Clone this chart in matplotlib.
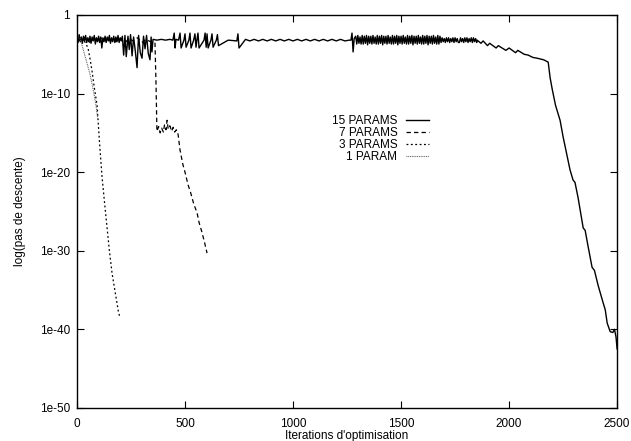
import numpy as np
import matplotlib
matplotlib.use("Agg")
import matplotlib.pyplot as plt

plt.rcParams['font.family'] = ['Liberation Sans', 'DejaVu Sans']

# ---- data : iteration, log10(pas de descente) ----
# 15 PARAMS, read piece by piece
it15_a = list(range(0, 211, 5))
e15_a = [-2.6, -3.5, -2.5, -3.4, -2.8, -3.6, -2.7, -3.3, -2.6, -3.5, -2.9, -3.4, -2.7, -3.6,
         -2.8, -3.3, -2.6, -3.7, -2.9, -3.4, -2.7, -3.5, -2.8, -4.2, -2.9, -3.4, -2.7, -3.5,
         -2.8, -3.3, -2.6, -3.6, -2.9, -3.4, -2.7, -3.5, -2.8, -3.4, -2.6, -3.5, -2.9, -3.3,
         -2.7]

it15_b = [216, 222, 228, 236, 242, 248, 255, 262, 270, 278, 285, 293, 301, 308, 315, 322,
          330, 338, 343, 347, 352]
e15_b = [-5.1, -2.6, -5.3, -2.7, -4.4, -2.5, -5.2, -2.8, -4.6, -6.7, -2.6, -4.8, -5.5, -2.7,
         -4.3, -2.6, -4.9, -5.7, -2.8, -4.7, -3.1]

it15_c = [370, 390, 410, 430, 444, 450, 454, 458, 470, 477, 482, 495, 500, 505, 518, 523,
          528, 540, 546, 551, 555, 560, 565, 588, 593, 598, 602, 607, 620, 625, 630, 645,
          650, 655, 700, 740, 745, 750]
e15_c = [-3.2, -3.1, -3.2, -3.1, -3.2, -2.3, -4.2, -3.1, -3.2, -2.3, -4.2, -3.2, -2.4, -4.1,
         -3.2, -2.3, -4.2, -3.2, -2.4, -4.1, -3.2, -2.3, -4.2, -3.2, -2.3, -4.1, -2.4, -4.2,
         -3.2, -2.4, -4.1, -3.2, -2.5, -3.9, -3.2, -3.3, -2.4, -4.2]

it15_d = [780, 800, 820, 840, 860, 880, 900, 920, 940, 960, 980, 1000, 1020, 1040, 1060,
          1080, 1100, 1120, 1140, 1160, 1180, 1200, 1220, 1240, 1260, 1268, 1273, 1278, 1283]
e15_d = [-3.1, -3.3, -3.1, -3.3, -3.1, -3.3, -3.1, -3.3, -3.1, -3.3, -3.1, -3.3, -3.1, -3.3,
         -3.1, -3.3, -3.1, -3.3, -3.1, -3.3, -3.1, -3.3, -3.1, -3.3, -3.2, -3.2, -2.3, -4.7,
         -3.0]

# thick oscillating band
it15_e = list(range(1290, 1681, 5))
e15_e = [-2.7, -3.7, -2.6, -3.6, -2.8, -3.7, -2.6, -3.7, -2.7, -3.6, -2.6, -3.8, -2.7, -3.6,
         -2.7, -3.7, -2.6, -3.6, -2.8, -3.7, -2.6, -3.7, -2.7, -3.6, -2.6, -3.8, -2.7, -3.6,
         -2.7, -3.7, -2.6, -3.6, -2.8, -3.7, -2.6, -3.7, -2.7, -3.6, -2.6, -3.8, -2.7, -3.6,
         -2.7, -3.7, -2.6, -3.6, -2.8, -3.7, -2.6, -3.7, -2.7, -3.6, -2.6, -3.8, -2.7, -3.6,
         -2.7, -3.7, -2.6, -3.6, -2.8, -3.7, -2.6, -3.7, -2.7, -3.6, -2.6, -3.8, -2.7, -3.6,
         -2.7, -3.7, -2.6, -3.6, -2.8, -3.7, -2.6, -3.7, -2.7]

it15_f = list(range(1685, 1851, 5)) + [1852]
e15_f = [-3.5, -2.9, -3.4, -3.0, -3.5, -2.9, -3.4, -2.9, -3.5, -3.0, -3.4, -2.9, -3.5, -2.9,
         -3.4, -3.0, -3.5,
         -3.5, -2.9, -3.4, -3.0, -3.5, -2.9, -3.4, -2.9, -3.5, -3.0, -3.4, -2.9, -3.5, -2.9,
         -3.4, -3.0, -3.5,
         -3.2]

it15_g = [1870, 1880, 1900, 1910, 1940, 1950, 1985, 2000, 2030, 2040, 2070, 2088, 2110, 2130,
          2160, 2181]
e15_g = [-3.6, -3.3, -3.9, -3.6, -4.2, -3.9, -4.5, -4.2, -4.8, -4.5, -5.0, -5.1, -5.4, -5.5,
         -5.7, -6.0]

it15_h = [2190, 2200, 2215, 2236, 2250, 2265, 2282, 2296, 2305, 2319, 2343, 2352, 2366, 2384,
          2395, 2412, 2435, 2445, 2454, 2468, 2480, 2488, 2491, 2495, 2500]
e15_h = [-8.0, -9.5, -11.5, -13.4, -15.5, -17.5, -19.7, -21.0, -21.3, -23.2, -27.1, -27.4,
         -29.5, -32.1, -32.5, -34.4, -36.6, -37.5, -39.2, -40.3, -40.4, -40.0, -40.4, -41.0,
         -42.5]

it15 = it15_a + it15_b + it15_c + it15_d + it15_e + it15_f + it15_g + it15_h
e15 = e15_a + e15_b + e15_c + e15_d + e15_e + e15_f + e15_g + e15_h

# 7 PARAMS
it7 = [0, 20, 40, 60, 80, 100, 120, 140, 160, 180, 200, 220, 240, 260, 280, 300, 320, 340,
       361, 366, 370, 378, 385, 392, 400, 405, 412, 417, 422, 430, 438, 445, 452, 460, 468,
       477, 490, 500, 514, 525, 540, 556, 565, 579, 590, 602]
e7 = [-2.9, -3.4, -2.8, -3.5, -3.0, -3.3, -2.8, -3.5, -3.0, -3.4, -2.9, -3.6, -3.0, -3.3,
      -2.9, -3.5, -3.1, -3.4, -3.5, -9.0, -14.8, -14.2, -15.0, -14.4, -14.9, -14.0, -14.6,
      -13.4, -14.5, -14.1, -14.8, -14.3, -14.9, -14.6, -15.2, -17.2, -19.0, -20.0, -21.6,
      -22.5, -24.0, -25.2, -26.4, -27.7, -28.9, -30.3]

# 3 PARAMS
it3 = [0, 10, 20, 30, 40, 51, 60, 70, 80, 93, 105, 116, 128, 139, 150, 162, 175, 185, 192, 199]
e3 = [-3.0, -2.8, -3.4, -3.1, -3.6, -4.2, -5.5, -7.2, -9.2, -11.5, -16.5, -20.6, -24.0,
      -27.0, -30.0, -32.8, -35.0, -36.6, -37.8, -38.5]

# 1 PARAM
it1 = [0, 8, 14, 25, 40, 60, 75, 88, 95]
e1 = [-3.1, -2.9, -3.0, -4.0, -5.5, -7.5, -9.5, -11.5, -13.0]

yticks = [1, 1e-10, 1e-20, 1e-30, 1e-40, 1e-50]
ylabels = ['1', '1e-10', '1e-20', '1e-30', '1e-40', '1e-50']
xticks = [0, 500, 1000, 1500, 2000, 2500]

fig = plt.figure(figsize=(6.31, 4.41), dpi=100)
ax = fig.add_axes([0.122, 0.075, 0.856, 0.891])

ax.plot(it15, 10.0 ** np.array(e15), color='black', lw=1.0, label='15 PARAMS')
ax.plot(it7, 10.0 ** np.array(e7), color='black', lw=0.9, dashes=(3.5, 2.5), label='7 PARAMS')
ax.plot(it3, 10.0 ** np.array(e3), color='black', lw=0.9, dashes=(1.5, 2.0), label='3 PARAMS')
ax.plot(it1, 10.0 ** np.array(e1), color='0.35', lw=0.8, dashes=(0.8, 0.8), label='1 PARAM')

ax.set_yscale('log')
ax.set_xlim(0, 2500)
ax.set_ylim(1e-50, 1)
ax.set_yticks(yticks)
ax.set_yticklabels(ylabels)
ax.set_xticks(xticks)
ax.minorticks_off()
ax.tick_params(direction='in', length=5, width=0.8, top=True, right=True,
               labelsize=8.5, pad=5)
ax.tick_params(axis='x', pad=7)
for s in ax.spines.values():
    s.set_linewidth(1.0)

ax.set_xlabel("Iterations d'optimisation", fontsize=8.5, labelpad=0)
ax.set_ylabel('log(pas de descente)', fontsize=8.5, labelpad=10)

ax.legend(loc='upper right', bbox_to_anchor=(0.652, 0.745), frameon=False,
          markerfirst=False, fontsize=8.5, handlelength=2.0, handletextpad=0.7,
          labelspacing=0.0, borderpad=0.0, borderaxespad=0.0)

fig.savefig('out.png', dpi=100)
